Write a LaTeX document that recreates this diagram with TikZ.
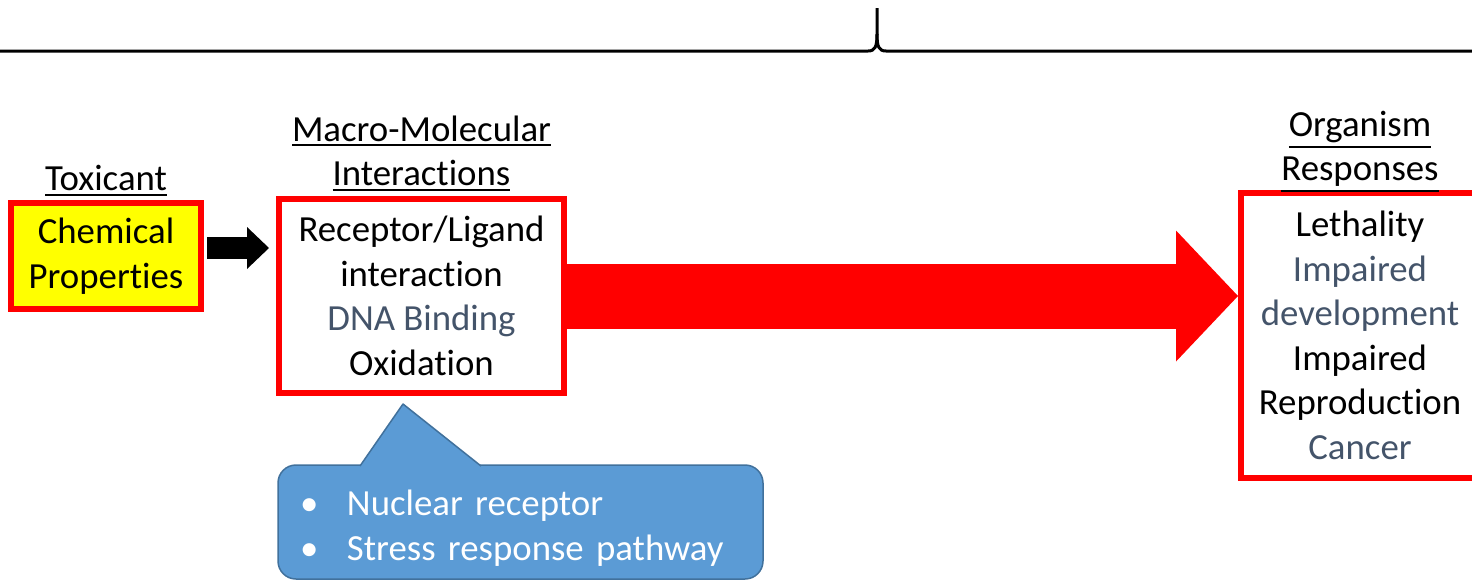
\documentclass[tikz,border=0pt]{standalone}
\usepackage{fontspec}
\setmainfont{Carlito}[Ligatures={NoCommon,NoRequired,NoContextual}, RawFeature={-calt;-ccmp}]
\usetikzlibrary{arrows.meta, positioning}
\definecolor{boxred}{HTML}{FF0000}
\definecolor{chemyellow}{HTML}{FFFF00}
\definecolor{slate}{HTML}{44546A}
\definecolor{calloutfill}{HTML}{5B9BD5}
\definecolor{calloutline}{HTML}{41719C}
\newcommand{\bodyfont}{\fontsize{36.8}{44.5}\selectfont}
\newcommand{\bulletline}[1]{\makebox[47pt][l]{\textbullet}#1}
% underlined heading word, rule set just under the descenders
\newcommand{\headword}[1]{\setbox0\hbox{#1}\rlap{\rule[-\dimexpr\dp0+5pt\relax]{\wd0}{2pt}}\box0}
\tikzset{
    stage/.style={
        rectangle, draw=boxred, line width=6pt, align=center,
        inner sep=0pt, font=\bodyfont
    },
    toxbox/.style={
        stage, fill=chemyellow
    },
    heading/.style={
        align=center, inner sep=0pt, font=\bodyfont
    },
    smallarrow/.style={
        line width=22pt, -{Triangle[length=22pt, width=42pt, line width=0pt]}
    },
    bigarrow/.style={
        draw=boxred, line width=65pt, -{Triangle[length=62pt, width=131pt, line width=0pt]}
    },
    pathwaybox/.style={
        rectangle, rounded corners=18pt, fill=calloutfill, draw=calloutline,
        line width=1.5pt, text=white, align=left, font=\bodyfont
    },
    topline/.style={
        line width=3pt
    }
}
\begin{document}
\begin{tikzpicture}[x=1pt, y=-1pt]

    \useasboundingbox (0,0) rectangle (1472,582);

    % line across the top with its spike
    \draw[topline] (0,51) -- (868,51) .. controls (875,51) and (877,47) .. (877,34) -- (877,8);
    \draw[topline] (1472,51) -- (886,51) .. controls (879,51) and (877,47) .. (877,34);

    \node[toxbox, minimum width=190pt, minimum height=106pt] (chem)  at (106,256)   {Chemical\\Properties};
    \node[stage,  minimum width=285pt, minimum height=194pt] (macro) at (421.5,296) {Receptor/Ligand\\interaction\\\textcolor{slate}{DNA Binding}\\Oxidation};
    \node[stage,  minimum width=238pt, minimum height=285pt] (resp)  at (1360,335.5)
        {Lethality\\\textcolor{slate}{Impaired}\\\textcolor{slate}{development}\\Impaired\\Reproduction\\\textcolor{slate}{Cancer}};

    \node[heading, above=4pt of chem]  (toxicant)   {\headword{Toxicant}};
    \node[heading, above=5pt of macro] (macrotitle) {\headword{Macro-Molecular}\\\headword{Interactions}};
    \node[heading, above=-2pt of resp] (resptitle)  {\headword{Organism}\\\headword{Responses}};

    \draw[smallarrow, shorten <=3pt, shorten >=7pt] ([yshift=8pt]chem.east) -- ([yshift=8pt]chem.east -| macro.west);
    \draw[bigarrow] (macro.east) -- (macro.east -| resp.west);

    % callout below the interactions box
    \node[pathwaybox, minimum width=485pt, minimum height=114pt, text width=441pt, inner xsep=22pt] (pathways) at (520.5,522)
        {\bulletline{\rule{0pt}{38pt}Nuclear receptor}\\\bulletline{Stress response pathway}};
    \filldraw[fill=calloutfill, draw=calloutline, line width=1.5pt, line join=round] (360,466) -- (403,404) -- (481,466);

\end{tikzpicture}
\end{document}
